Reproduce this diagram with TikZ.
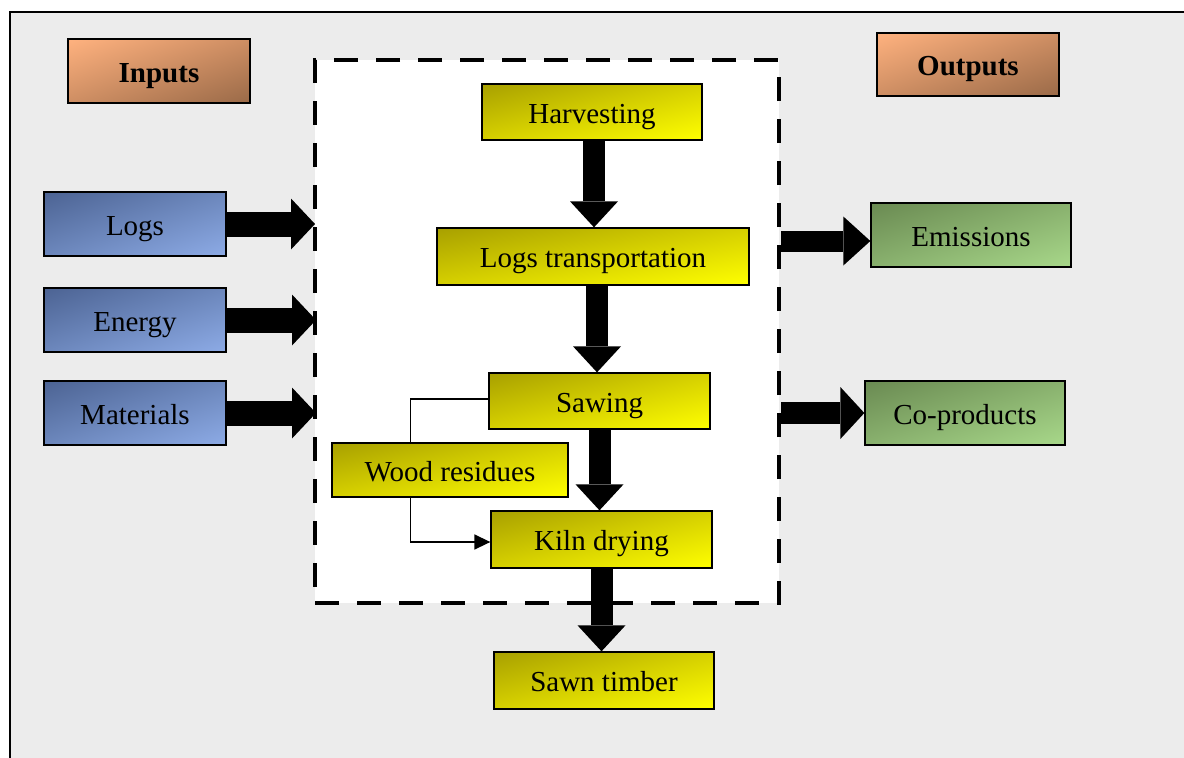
\documentclass[tikz,border=0pt]{standalone}
\usepackage{fontspec}
\setmainfont{Liberation Serif}
\usetikzlibrary{arrows.meta,calc,shadings}
\definecolor{bgc}{HTML}{ECECEC}
\definecolor{orA}{HTML}{FFB27F}
\definecolor{orB}{HTML}{9A6A48}
\definecolor{orC}{HTML}{CE8E63}
\definecolor{blA}{HTML}{4C6393}
\definecolor{blB}{HTML}{8DABE6}
\definecolor{blC}{HTML}{6C87BC}
\definecolor{yeA}{HTML}{A8A000}
\definecolor{yeB}{HTML}{FFFF00}
\definecolor{yeC}{HTML}{D6D000}
\definecolor{grA}{HTML}{6A8A52}
\definecolor{grB}{HTML}{A8D88A}
\definecolor{grC}{HTML}{89B16E}
\begin{document}
\begin{tikzpicture}[x=1pt,y=-1pt,
  box/.style={draw=black, line width=1.3pt, inner sep=0pt,
    text height=22pt, text depth=0pt,
    font=\fontsize{29}{30}\selectfont},
  orangebox/.style={box, upper left=orA, lower right=orB, upper right=orC, lower left=orC,
    minimum width=182pt, minimum height=64pt, font=\fontsize{29}{30}\selectfont\bfseries},
  bluebox/.style={box, upper left=blA, lower right=blB, upper right=blC, lower left=blC,
    minimum width=182pt, minimum height=64pt},
  yellowbox/.style={box, upper left=yeA, lower right=yeB, upper right=yeC, lower left=yeC,
    minimum height=56pt},
  greenbox/.style={box, upper left=grA, lower right=grB, upper right=grC, lower left=grC,
    minimum width=200pt, minimum height=64pt},
  fatH/.style={line width=25pt, -{Triangle[length=24pt,width=51pt,line width=0pt]}},
  fatV/.style={line width=22pt, -{Triangle[length=26pt,width=48pt,line width=0pt]}},
  thin/.style={line width=1.5pt}
]
\useasboundingbox (0,0) rectangle (1184,758);
% outer frame
\draw[line width=2.5pt, fill=bgc] (10,12) rectangle (1200,780);
% process boundary
\node[draw, fill=white, line width=4pt, dash pattern=on 24pt off 18pt,
  minimum width=464pt, minimum height=543pt, inner sep=0pt] (proc) at (547,331.5) {};

% headers
\node[orangebox] (inputs) at (159,71) {Inputs};
\node[orangebox, minimum height=63pt] (outputs) at (968,64.5) {Outputs};

% inputs
\node[bluebox] (logs) at (135,224) {Logs};
\node[bluebox] (energy) at (135,320) {Energy};
\node[bluebox] (materials) at (135,413) {Materials};

% process steps
\node[yellowbox, minimum width=220pt] (harv) at (592,112) {Harvesting};
\node[yellowbox, minimum width=312pt, minimum height=57pt] (lt) at (593,256.5) {Logs transportation};
\node[yellowbox, minimum width=221pt] (saw) at (599.5,401) {Sawing};
\node[yellowbox, minimum width=236pt, minimum height=54pt] (wood) at (450,470) {Wood residues};
\node[yellowbox, minimum width=221pt, minimum height=57pt] (kiln) at (601.5,539.5) {Kiln drying};
\node[yellowbox, minimum width=220pt, minimum height=57pt] (sawn) at (604,680.5) {Sawn timber};

% outputs
\node[greenbox] (em) at (971,235) {Emissions};
\node[greenbox] (cop) at (965,413) {Co-products};

% input arrows
\draw[fatH] (logs.east) -- ($(logs.east -| proc.west)+(2,0)$);
\draw[fatH] (energy.east) -- ($(energy.east -| proc.west)+(3,0)$);
\draw[fatH] (materials.east) -- ($(materials.east -| proc.west)+(3,0)$);

% output arrows
\draw[line width=21pt, -{Triangle[length=27pt,width=49pt,line width=0pt]}]
  ($(em.west -| proc.east)+(0,6)$) -- ($(em.west)+(0,6)$);
\draw[line width=22pt, -{Triangle[length=24pt,width=52pt,line width=0pt]}]
  (cop.west -| proc.east) -- (cop.west);

% process arrows
\draw[fatV] ($(harv.south)+(2,0)$) -- ($(harv.south |- lt.north)+(2,0)$);
\draw[fatV] (saw.north |- lt.south) ++(-2.5,0) -- ($(saw.north)+(-2.5,0)$);
\draw[fatV] (saw.south) -- (saw.south |- kiln.north);
\draw[fatV] (kiln.south) -- (kiln.south |- sawn.north);

% wood residues loop
\coordinate (wtop) at ($(wood.north west)+(79,0)$);
\coordinate (wbot) at ($(wood.south west)+(79,0)$);
\draw[thin] ($(saw.west)+(0,-2)$) -| (wtop);
\draw[thin, -{Triangle[length=16pt,width=15pt]}] (wbot) |- ($(kiln.west)+(0,2.5)$);
\end{tikzpicture}
\end{document}
